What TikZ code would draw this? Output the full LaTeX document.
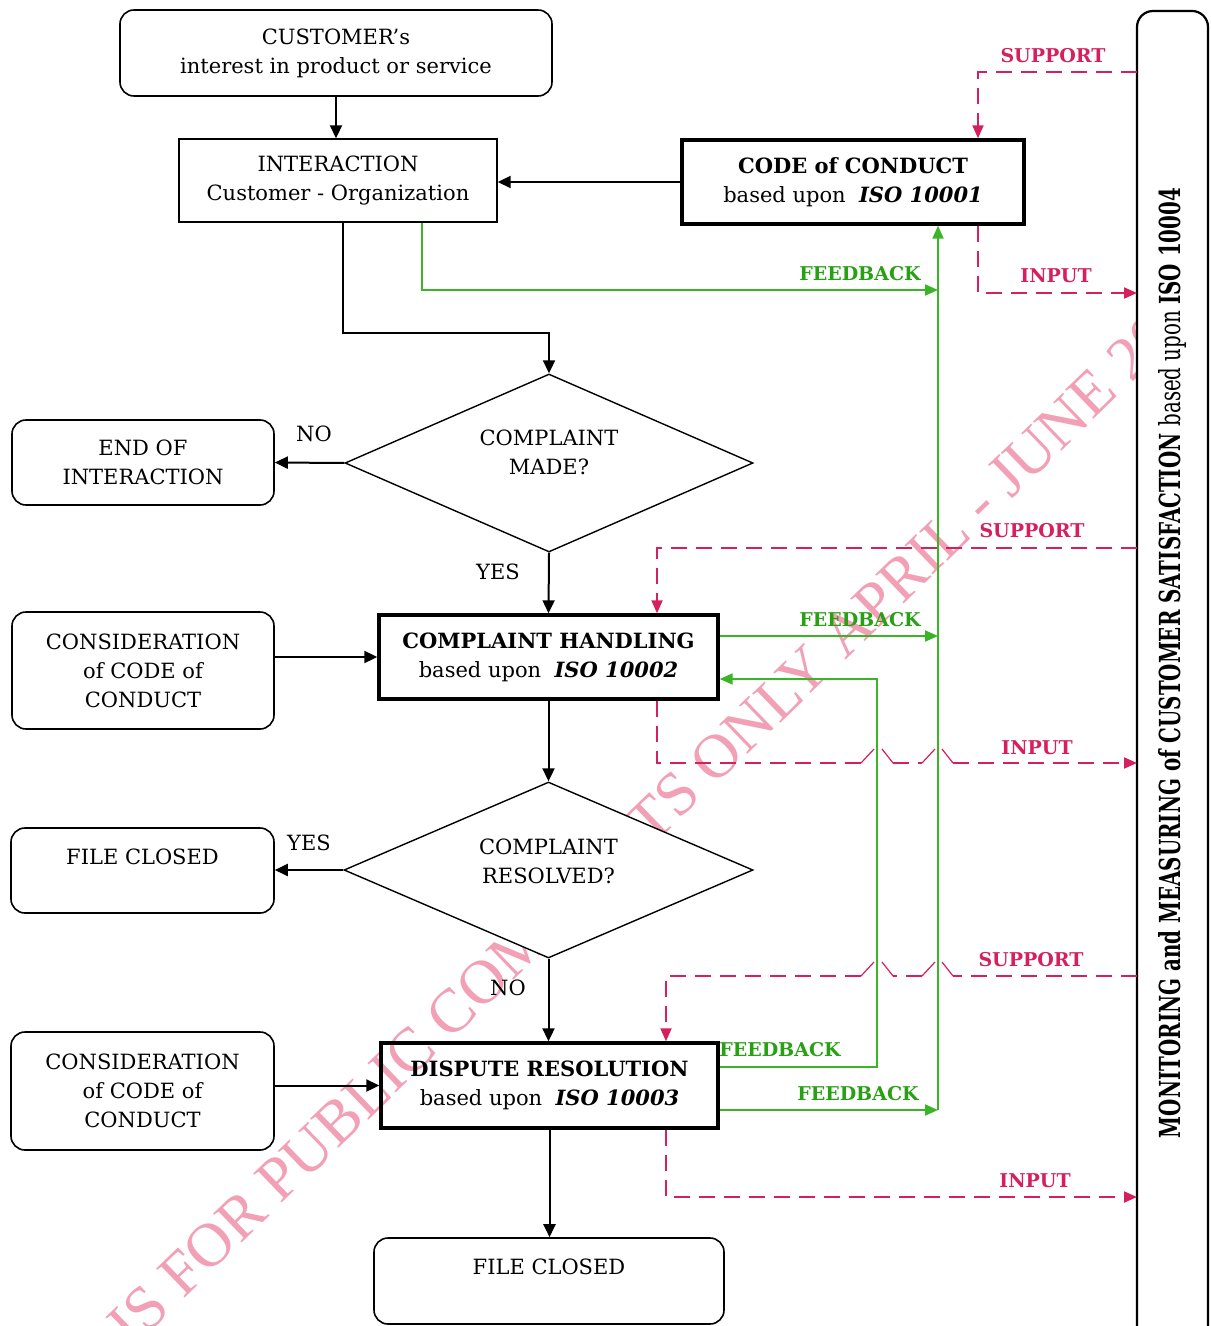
\documentclass[tikz,border=0pt]{standalone}
\usepackage{fontspec}
\usepackage{graphicx}
\setmainfont{DejaVu Serif}
\newfontfamily\condfont{DejaVu Serif Condensed}
\newfontfamily\wmfont{Liberation Serif}
\usetikzlibrary{shapes.geometric,arrows.meta}
\definecolor{fbgreen}{RGB}{60,180,40}
\definecolor{fblabel}{RGB}{40,160,20}
\definecolor{supred}{RGB}{214,32,92}
\definecolor{wmpink}{RGB}{242,160,182}
\newcommand{\mlines}[2]{\raisebox{#1}[0pt][0pt]{\begin{tabular}{@{}c@{}}#2\end{tabular}}}
\tikzset{
  base/.style={font=\fontsize{10.5}{14.5}\selectfont, align=center, inner sep=0pt},
  roundbox/.style={base, draw, rounded corners=7pt, line width=0.8pt},
  plainbox/.style={base, draw, line width=0.7pt},
  thickbox/.style={base, draw, line width=1.7pt},
  decision/.style={base, draw, diamond, shape aspect=2.3, line width=0.7pt, fill=white},
  flow/.style={-{Triangle[length=6.5pt,width=6pt]}, line width=1pt},
  fb/.style={draw=fbgreen, line width=1pt},
  fbarrow/.style={fb, -{Triangle[length=6.5pt,width=5.5pt]}},
  dsh/.style={draw=supred, line width=1pt, dash pattern=on 8pt off 4.5pt},
  dsharrow/.style={dsh, -{Triangle[length=6.5pt,width=5.5pt]}},
  hop/.style={draw=supred, line width=0.6pt},
  tag/.style={font=\fontsize{9.5}{11}\selectfont\bfseries, inner sep=0pt},
  fbtag/.style={tag, text=fblabel},
  redtag/.style={tag, text=supred},
  yn/.style={font=\fontsize{10.5}{12}\selectfont, inner sep=0pt},
}
\begin{document}
\begin{tikzpicture}[x=0.5pt,y=-0.5pt]
\useasboundingbox (0,0) rectangle (1210,1326);
% watermark
\begin{scope}
\clip (0,0) rectangle (1137,1326);
\node[rotate=44, text=wmpink, inner sep=0pt, font=\wmfont\fontsize{31}{31}\selectfont] (wm) at (640,830) {IS FOR PUBLIC COMMENTS ONLY APRIL - JUNE 20};
\end{scope}
% monitoring box
\node[draw, fill=white, rounded corners=8pt, line width=1.1pt, rotate=90, minimum width=667pt, minimum height=35.5pt, inner sep=0pt] (mon) at (1172.5,678)
  {\hspace{15pt}\resizebox{475pt}{11pt}{\condfont\bfseries MONITORING and MEASURING of CUSTOMER SATISFACTION \mdseries based upon \bfseries ISO 10004}};
% nodes
\node[roundbox, minimum width=216pt, minimum height=43pt] (cust) at (336,53) {CUSTOMER's\\interest in product or service};
\node[plainbox, minimum width=159pt, minimum height=41.5pt] (inter) at (338,180.5) {INTERACTION\\Customer - Organization};
\node[thickbox, minimum width=171pt, minimum height=42pt] (coc) at (853,182) {\textbf{CODE of CONDUCT}\\based upon\ \ \textbf{\textit{ISO 10001}}};
\node[decision, minimum width=204pt, minimum height=89pt] (d1) at (549,463) {\mlines{1.5pt}{COMPLAINT\\MADE?}};
\node[roundbox, minimum width=131pt, minimum height=42.5pt] (endi) at (143,462.5) {END OF\\INTERACTION};
\node[thickbox, minimum width=169.5pt, minimum height=42pt] (ch) at (548.5,657) {\textbf{COMPLAINT HANDLING}\\based upon\ \ \textbf{\textit{ISO 10002}}};
\node[roundbox, minimum width=131pt, minimum height=58.5pt] (cons1) at (143,670.5) {CONSIDERATION\\of CODE of\\CONDUCT};
\node[decision, minimum width=204.5pt, minimum height=88pt] (d2) at (548.5,870) {\mlines{0.75pt}{COMPLAINT\\RESOLVED?}};
\node[roundbox, minimum width=131.5pt, minimum height=42.5pt] (fc1) at (142.5,870.5) {\mlines{3.2pt}{FILE CLOSED}};
\node[roundbox, minimum width=131.5pt, minimum height=59pt] (cons2) at (142.5,1091) {CONSIDERATION\\of CODE of\\CONDUCT};
\node[thickbox, minimum width=168.5pt, minimum height=42.5pt] (dr) at (549.5,1085.5) {\textbf{DISPUTE RESOLUTION}\\based upon\ \ \textbf{\textit{ISO 10003}}};
\node[roundbox, minimum width=175pt, minimum height=43pt] (fc2) at (549,1281) {\mlines{3.5pt}{FILE CLOSED}};
% black flow
\draw[flow] (cust.south) -- (cust.south |- inter.north);
\draw[flow] (coc.west) -- (coc.west -| inter.east);
\draw[flow] ([xshift=2.5pt]inter.south) -- ++(0,110) -| (d1.north);
\draw[flow] (d1.west) -- (endi.east);
\draw[flow] (d1.south) -- (ch.north);
\draw[flow] (cons1.east |- ch.west) -- (ch.west);
\draw[flow] (ch.south) -- (d2.north);
\draw[flow] (d2.west) -- (fc1.east |- d2.west);
\draw[flow] (d2.south) -- (d2.south |- dr.north);
\draw[flow] (cons2.east |- dr.west) -- (dr.west);
\draw[flow] (dr.south) -- (dr.south |- fc2.north);
% green feedback
\coordinate (fb1) at (938,290);
\coordinate (fb2) at (938,636);
\coordinate (fb4) at (938,1110);
\coordinate (loop) at (877,679);
\draw[fbarrow] ([xshift=42pt]inter.south) |- (fb1);
\draw[fbarrow] ([yshift=10.5pt]ch.east) -- (fb2);
\draw[fbarrow] ([yshift=9.25pt]dr.east) -| (loop) -- ([yshift=-11pt]ch.east);
\draw[fbarrow] ([yshift=-12.25pt]dr.east) -- (fb4);
\draw[fbarrow] (fb4) -- ([xshift=42.5pt]coc.south);
% red support / input
\coordinate (s1) at (1137,72);
\coordinate (i1) at (1137,293);
\coordinate (s2) at (1137,548);
\coordinate (s3) at (1137,976);
\coordinate (i3) at (1137,1197);
\coordinate (i2) at (1137,763);
\draw[dsharrow] (s1) -| ([xshift=62.5pt]coc.north);
\draw[dsharrow] ([xshift=62.5pt]coc.south) |- (i1);
\draw[dsharrow] (s2) -| ([xshift=54.25pt]ch.north);
% input 2 with hops
\coordinate (a1) at (861,763); \coordinate (a2) at (874,749);
\coordinate (a3) at (882,749); \coordinate (a4) at (893,763);
\coordinate (a5) at (922,763); \coordinate (a6) at (935,749);
\coordinate (a7) at (942,749); \coordinate (a8) at (953,763);
\draw[dsh] ([xshift=54.25pt]ch.south) |- (a1);
\draw[hop] (a1) -- (a2); \draw[hop] (a3) -- (a4);
\draw[dsh] (a4) -- (a5);
\draw[hop] (a5) -- (a6); \draw[hop] (a7) -- (a8);
\draw[dsharrow] (a8) -- (i2);
% support 3 with hops
\coordinate (b1) at (953,976); \coordinate (b2) at (942,962);
\coordinate (b3) at (935,962); \coordinate (b4) at (922,976);
\coordinate (b5) at (893,976); \coordinate (b6) at (882,962);
\coordinate (b7) at (874,962); \coordinate (b8) at (861,976);
\draw[dsh] (s3) -- (b1);
\draw[hop] (b1) -- (b2); \draw[hop] (b3) -- (b4);
\draw[dsh] (b4) -- (b5);
\draw[hop] (b5) -- (b6); \draw[hop] (b7) -- (b8);
\draw[dsharrow] (b8) -| ([xshift=58.25pt]dr.north);
\draw[dsharrow] ([xshift=58.25pt]dr.south) |- (i3);
% labels
\node[fbtag] (l1) at (860,274) {FEEDBACK};
\node[fbtag] (l2) at (860,620) {FEEDBACK};
\node[fbtag] (l3) at (780,1050) {FEEDBACK};
\node[fbtag] (l4) at (858,1094) {FEEDBACK};
\node[redtag] (r1) at (1053,56) {SUPPORT};
\node[redtag] (r2) at (1032,531) {SUPPORT};
\node[redtag] (r3) at (1031,960) {SUPPORT};
\node[redtag] (r4) at (1056,276) {INPUT};
\node[redtag] (r5) at (1037,748) {INPUT};
\node[redtag] (r6) at (1035,1181) {INPUT};
\node[yn] (n1) at (314,434) {NO};
\node[yn] (y1) at (498,572) {YES};
\node[yn] (y2) at (309,843) {YES};
\node[yn] (n2) at (508,988) {NO};
\end{tikzpicture}
\end{document}
